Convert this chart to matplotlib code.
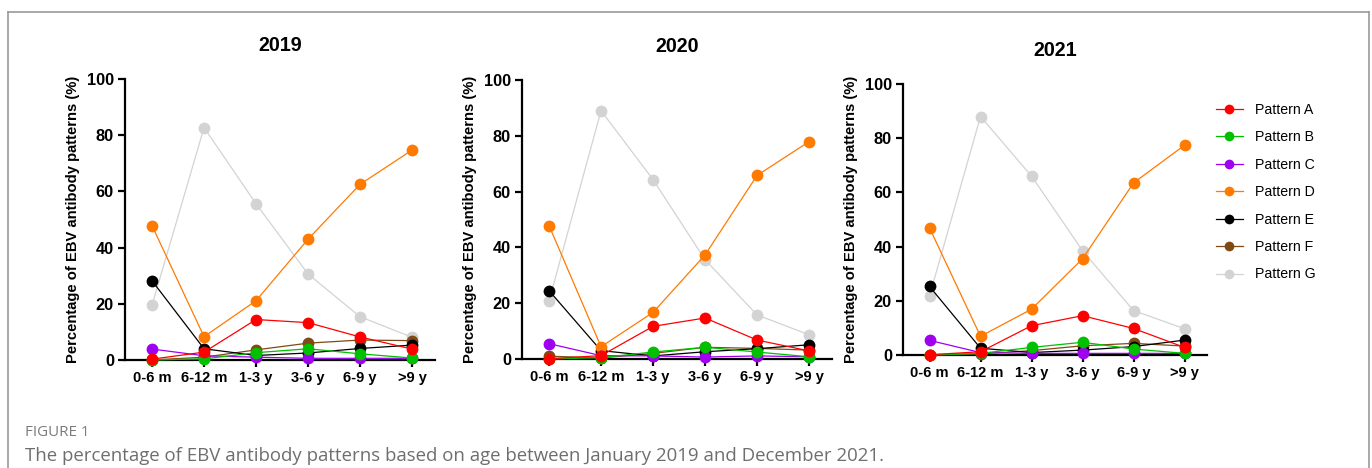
import matplotlib
matplotlib.use("Agg")
import matplotlib.pyplot as plt
from matplotlib.lines import Line2D

# ---- data -------------------------------------------------------------
age_groups = ["0-6 m", "6-12 m", "1-3 y", "3-6 y", "6-9 y", ">9 y"]
years = ["2019", "2020", "2021"]
pattern_names = ["Pattern A", "Pattern B", "Pattern C", "Pattern D",
                 "Pattern E", "Pattern F", "Pattern G"]

pct_2019_A = [0.3, 2.8, 14.4, 13.3, 8.2, 3.9]
pct_2019_B = [0.0, 0.4, 2.6, 4.0, 2.2, 0.7]
pct_2019_C = [3.9, 1.5, 1.0, 0.6, 0.6, 0.6]
pct_2019_D = [47.8, 8.3, 21.1, 43.0, 62.5, 74.7]
pct_2019_E = [28.2, 4.0, 1.6, 2.5, 4.1, 5.3]
pct_2019_F = [0.0, 1.0, 3.6, 6.0, 7.1, 6.9]
pct_2019_G = [19.5, 82.7, 55.6, 30.6, 15.4, 8.1]

pct_2020_A = [0.1, 1.2, 11.7, 14.7, 6.8, 2.9]
pct_2020_B = [0.0, 0.5, 2.5, 4.2, 2.5, 0.8]
pct_2020_C = [5.5, 1.2, 1.1, 0.7, 1.1, 0.8]
pct_2020_D = [47.8, 4.4, 16.7, 37.3, 65.8, 77.9]
pct_2020_E = [24.5, 3.0, 1.1, 2.6, 3.7, 5.1]
pct_2020_F = [1.0, 0.4, 2.0, 4.2, 3.8, 3.2]
pct_2020_G = [20.8, 89.0, 64.3, 35.6, 15.8, 8.7]

pct_2021_A = [0.1, 1.2, 10.8, 14.5, 9.8, 2.8]
pct_2021_B = [0.0, 0.6, 2.8, 4.7, 2.2, 0.6]
pct_2021_C = [5.4, 0.9, 0.6, 0.6, 0.6, 0.6]
pct_2021_D = [46.9, 6.9, 16.9, 35.5, 63.5, 77.4]
pct_2021_E = [25.3, 2.5, 0.9, 1.8, 3.1, 5.5]
pct_2021_F = [0.0, 0.4, 1.6, 3.4, 4.3, 3.3]
pct_2021_G = [21.8, 88.0, 66.0, 38.5, 16.4, 9.7]

series_by_year = {
    "2019": [pct_2019_A, pct_2019_B, pct_2019_C, pct_2019_D, pct_2019_E, pct_2019_F, pct_2019_G],
    "2020": [pct_2020_A, pct_2020_B, pct_2020_C, pct_2020_D, pct_2020_E, pct_2020_F, pct_2020_G],
    "2021": [pct_2021_A, pct_2021_B, pct_2021_C, pct_2021_D, pct_2021_E, pct_2021_F, pct_2021_G],
}

colors = ["#FF0000", "#00C000", "#A000F0", "#FF7A00", "#000000", "#7F4A14", "#D3D3D3"]

# ---- figure -----------------------------------------------------------
W, H = 1372, 468
fig = plt.figure(figsize=(W / 100, H / 100), dpi=100)
plt.rcParams["font.family"] = ["Liberation Sans", "DejaVu Sans"]

# outer frame (open at the bottom)
frame_col = "#999999"
fx0, fx1, fy0 = 8 / W, 1369 / W, 1 - 12 / H
fig.add_artist(Line2D([fx0, fx1], [fy0, fy0], transform=fig.transFigure, color=frame_col, lw=1.2))
fig.add_artist(Line2D([fx0, fx0], [0, fy0], transform=fig.transFigure, color=frame_col, lw=1.2))
fig.add_artist(Line2D([fx1, fx1], [0, fy0], transform=fig.transFigure, color=frame_col, lw=1.2))

# panel geometry in pixels: (y-axis x, category spacing, y of 0, y of 100)
panels = {
    "2019": (125, 52.0, 360, 79),
    "2020": (522, 52.0, 359, 80),
    "2021": (903, 51.0, 355, 84),
}
xmin, xmax = -0.52, 5.45
x = list(range(len(age_groups)))

draw_order = [6, 5, 4, 3, 2, 1, 0]

for yr in years:
    ax_x, step, y0, y100 = panels[yr]
    left = ax_x / W
    width = step * (xmax - xmin) / W
    bottom = (H - y0) / H
    height = (y0 - y100) / H
    ax = fig.add_axes([left, bottom, width, height])
    vals = series_by_year[yr]
    for i in draw_order:
        ax.plot(x, vals[i], color=colors[i], lw=0.9, marker="o", ms=8.5,
                markeredgewidth=0, label=pattern_names[i], clip_on=False, zorder=3 + (6 - i))
    ax.set_xlim(xmin, xmax)
    ax.set_ylim(0, 100)
    ax.set_yticks([0, 20, 40, 60, 80, 100])
    ax.set_xticks(x)
    ax.set_xticklabels(age_groups, fontsize=10.5, fontweight="bold")
    for lab in ax.get_yticklabels():
        lab.set_fontsize(11.8)
        lab.set_fontweight("bold")
    ax.spines["top"].set_visible(False)
    ax.spines["right"].set_visible(False)
    ax.spines["left"].set_linewidth(1.6)
    ax.spines["bottom"].set_linewidth(1.6)
    ax.tick_params(axis="both", direction="out", length=5, width=1.6, pad=3)
    ax.set_ylabel("Percentage of EBV antibody patterns (%)", fontsize=10.6,
                  fontweight="bold", labelpad=5)
    ax.set_title(yr, fontsize=14.2, fontweight="bold", pad=20)

# legend
handles = [Line2D([0], [0], color=colors[i], lw=0.9, marker="o", ms=7, markeredgewidth=0)
           for i in range(7)]
fig.legend(handles, pattern_names, loc="upper left", bbox_to_anchor=(1203 / W, 1 - 90 / H),
           frameon=False, fontsize=10.2, handlelength=1.9, labelspacing=0.95,
           handletextpad=0.85)

# caption
fig.text(25 / W, 1 - 432 / H, "FIGURE 1", fontsize=10.9, color="#7a7a7a",
         family=["Open Sans", "DejaVu Sans"], va="center")
fig.text(25 / W, 1 - 456 / H,
         "The percentage of EBV antibody patterns based on age between January 2019 and December 2021.",
         fontsize=13.4, color="#6e6e6e", family=["Open Sans", "DejaVu Sans"], va="center")

fig.savefig("out.png", dpi=100)
